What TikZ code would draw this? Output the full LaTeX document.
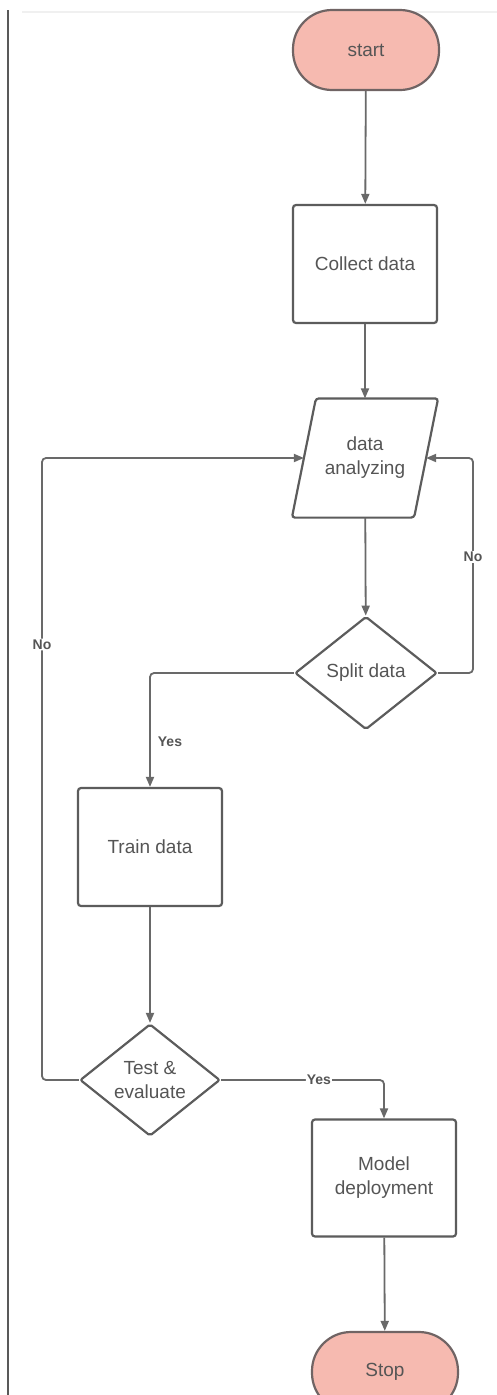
\documentclass[tikz,border=0pt]{standalone}
\usepackage{fontspec}
\setmainfont{Liberation Sans}
\usetikzlibrary{arrows.meta,shapes.geometric}
\definecolor{termfill}{RGB}{246,186,176}
\definecolor{termdraw}{RGB}{112,100,100}
\definecolor{boxdraw}{RGB}{92,92,92}
\definecolor{linecol}{RGB}{105,105,105}
\definecolor{txtcol}{RGB}{85,85,85}
\tikzset{
  base/.style={draw=boxdraw, line width=2.2pt, text=txtcol, font=\fontsize{19}{24}\selectfont, align=center, inner sep=0pt},
  term/.style={base, draw=termdraw, fill=termfill, rounded corners=39pt, minimum width=146pt, minimum height=80pt},
  procbox/.style={base, rounded corners=3pt, minimum width=144pt, minimum height=118pt},
  iotext/.style={base, draw=none, minimum width=120pt, minimum height=117pt},
  ioshape/.style={draw=boxdraw, line width=2.2pt, rounded corners=3pt},
  decbox/.style={base, diamond, rounded corners=2pt, minimum width=142pt, minimum height=113pt},
  conn/.style={draw=linecol, line width=1.8pt, rounded corners=4pt, -{Triangle[length=10pt,width=8pt]}},
  lbl/.style={text=txtcol, font=\fontsize{14}{16}\selectfont\bfseries, fill=white, inner sep=1pt}
}
\begin{document}
\begin{tikzpicture}[x=1pt,y=-1pt]
\useasboundingbox (0,0) rectangle (497,1395);
\clip (0,0) rectangle (497,1395);
\fill[white] (0,0) rectangle (497,1395);
% frame lines
\draw[draw=black!65, line width=1.6pt] (8,10) -- (8,1395);
\draw[draw=black!6, line width=1.2pt] (22,12) -- (497,12);
% nodes
\node[term] (start) at (366,50) {start};
\node[procbox] (collect) at (365,264) {Collect data};
\node[iotext] (data) at (365,458) {data\\analyzing};
\draw[ioshape] ([xshift=12pt]data.north west) -- ([xshift=12pt]data.north east)
  -- ([xshift=-12pt]data.south east) -- ([xshift=-12pt]data.south west) -- cycle;
\node[decbox] (split) at (366,673) {Split data};
\node[procbox] (train) at (150,847) {Train data};
\node[decbox, minimum width=140pt, minimum height=112pt] (test) at (150,1080) {Test \&\\evaluate};
\node[procbox, minimum height=117pt] (model) at (384,1178) {Model\\deployment};
\node[term] (stop) at (385,1372) {Stop};
\coordinate (rx) at (473,0);
\coordinate (lx) at (42,0);
% connectors
\draw[conn] (start) -- (collect);
\draw[conn] (collect) -- (data);
\draw[conn] (data) -- (split);
\draw[conn] (split.east) -- (split.east -| rx) |- (data.east) node[pos=0.27, lbl] {No};
\draw[conn] (split.west) -| (train.north) node[pos=0.8, right=6pt, lbl] {Yes};
\draw[conn] (train) -- (test);
\draw[conn] (test.west) -- (test.west -| lx) |- (data.west) node[pos=0.35, lbl] {No};
\draw[conn] (test.east) -| (model.north) node[pos=0.3, lbl] {Yes};
\draw[conn] (model) -- (stop);
\end{tikzpicture}
\end{document}
